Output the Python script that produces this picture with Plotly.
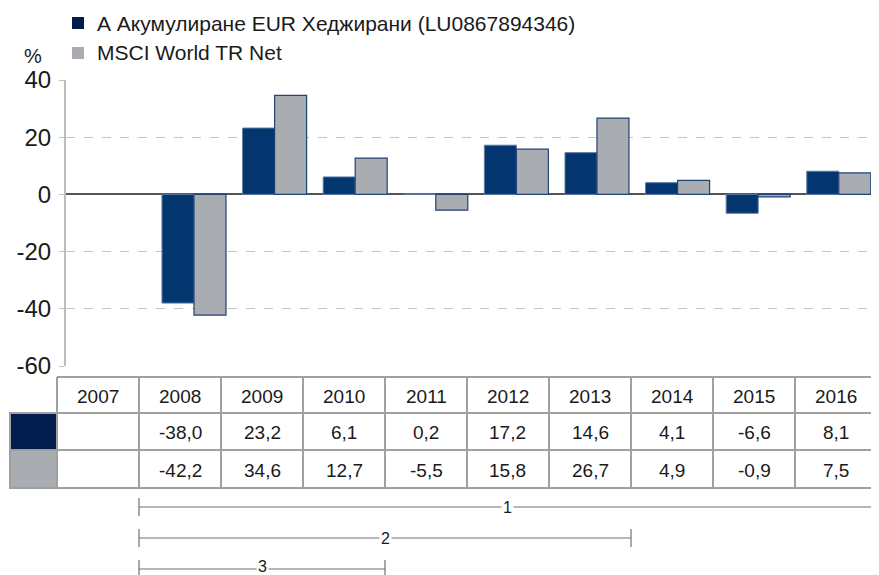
import plotly.graph_objects as go

# ---------------- data ----------------
years = ["2007", "2008", "2009", "2010", "2011", "2012", "2013", "2014", "2015", "2016"]
fund_name = "А Акумулиране EUR Хеджирани (LU0867894346)"
bench_name = "MSCI World TR Net"
fund_values = [None, -38.0, 23.2, 6.1, 0.2, 17.2, 14.6, 4.1, -6.6, 8.1]
bench_values = [None, -42.2, 34.6, 12.7, -5.5, 15.8, 26.7, 4.9, -0.9, 7.5]
y_ticks = [40, 20, 0, -20, -40, -60]
periods = ["1", "2", "3"]
period_start = ["2008", "2008", "2008"]
period_end = ["2016", "2013", "2010"]

# ---------------- style ----------------
PAGE_W, PAGE_H = 879, 575
OX, OY = 8, 8                      # page body margin
W, H = PAGE_W - OX, PAGE_H - OY
FONT = "Liberation Sans, Arial, sans-serif"
NAVY_BAR = "#03366f"
NAVY_SW = "#021c4e"
GREY = "#a9acb1"
TXT = "#1a1a1a"
BORDER = "#a0a0a0"


def px(x):
    return (x - OX) / W


def py(y):
    return 1 - (y - OY) / H


fig = go.Figure()
fig.add_trace(go.Bar(x=years, y=fund_values, name=fund_name, marker_color=NAVY_BAR,
                     marker_line=dict(color="#5d7ca3", width=1), showlegend=False))
fig.add_trace(go.Bar(x=years, y=bench_values, name=bench_name, marker_color=GREY,
                     marker_line=dict(color="#1f4377", width=1.2), showlegend=False))

shapes = []
annotations = []

# legend (custom)
for i, (name, col) in enumerate([(fund_name, NAVY_SW), (bench_name, GREY)]):
    yc = 23 + 30 * i
    shapes.append(dict(type="rect", xref="paper", yref="paper", x0=px(72), x1=px(84),
                       y0=py(yc - 6), y1=py(yc + 6), fillcolor=col, line=dict(width=0)))
    annotations.append(dict(xref="paper", yref="paper", x=px(95), y=py(yc), text=name,
                            showarrow=False, xanchor="left", yanchor="middle",
                            font=dict(family=FONT, size=21, color=TXT)))
annotations.append(dict(xref="paper", yref="paper", x=px(33), y=py(56), text="%",
                        showarrow=False, xanchor="center", yanchor="middle",
                        font=dict(family=FONT, size=20, color=TXT)))

# table
col_left = 57
col_w = 82
sw_left = 10
row_y = [377, 413, 450, 488]
n = len(years)
line = dict(color=BORDER, width=2)
shapes.append(dict(type="rect", xref="paper", yref="paper", x0=px(sw_left), x1=px(col_left),
                   y0=py(row_y[1]), y1=py(row_y[2]), fillcolor=NAVY_SW, line=line))
shapes.append(dict(type="rect", xref="paper", yref="paper", x0=px(sw_left), x1=px(col_left),
                   y0=py(row_y[2]), y1=py(row_y[3]), fillcolor=GREY, line=line))
right = col_left + col_w * n
for k, yy in enumerate(row_y):
    x0 = col_left if k == 0 else sw_left
    shapes.append(dict(type="line", xref="paper", yref="paper", x0=px(x0), x1=px(right),
                       y0=py(yy), y1=py(yy), line=line))
for k in range(n + 1):
    xx = col_left + col_w * k
    shapes.append(dict(type="line", xref="paper", yref="paper", x0=px(xx), x1=px(xx),
                       y0=py(row_y[0]), y1=py(row_y[3]), line=line))


def fmt(v):
    return "" if v is None else f"{v:.1f}".replace(".", ",")


for k, yr in enumerate(years):
    xc = col_left + col_w * (k + 0.5)
    for r, txt in enumerate([yr, fmt(fund_values[k]), fmt(bench_values[k])]):
        if not txt:
            continue
        annotations.append(dict(xref="paper", yref="paper", x=px(xc),
                                y=py((row_y[r] + row_y[r + 1]) / 2 + 1), text=txt,
                                showarrow=False, xanchor="center", yanchor="middle",
                                font=dict(family=FONT, size=19, color=TXT)))

# period brackets
br_y = [507, 538, 569]
pline = dict(color="#707070", width=1.2)
for p, s, e, yy in zip(periods, period_start, period_end, br_y):
    xs = col_left + col_w * years.index(s)
    xe = col_left + col_w * (years.index(e) + 1)
    shapes.append(dict(type="line", xref="paper", yref="paper", x0=px(xs), x1=px(xe),
                       y0=py(yy), y1=py(yy), line=pline))
    for xx in (xs, xe):
        shapes.append(dict(type="line", xref="paper", yref="paper", x0=px(xx), x1=px(xx),
                           y0=py(yy - 9), y1=py(min(yy + 9, PAGE_H)), line=pline))
    annotations.append(dict(xref="paper", yref="paper", x=px((xs + xe) / 2),
                            y=py(min(yy, PAGE_H - 9)),
                            text=p, showarrow=False, xanchor="center", yanchor="middle",
                            bgcolor="white", borderpad=1,
                            font=dict(family=FONT, size=16, color=TXT)))

fig.update_layout(
    width=W, height=H, autosize=False,
    margin=dict(l=0, r=0, t=0, b=0, pad=0, autoexpand=False),
    paper_bgcolor="white", plot_bgcolor="white",
    barmode="group", bargap=0.206, bargroupgap=0,
    showlegend=False,
    font=dict(family=FONT, color=TXT),
    shapes=shapes, annotations=annotations,
    xaxis=dict(domain=[px(66), 1], range=[-0.588, 9.499], showgrid=False,
               showticklabels=False, ticks="", showline=False, zeroline=False,
               automargin=False),
    yaxis=dict(domain=[py(366), py(80)], range=[-60, 40], tickvals=y_ticks,
               ticktext=[str(v) for v in y_ticks],
               tickfont=dict(family=FONT, size=24, color=TXT),
               showgrid=True, gridcolor="#c4c4c4", griddash="dash", gridwidth=1,
               zeroline=True, zerolinecolor="#555555", zerolinewidth=1.5,
               showline=True, linecolor="#bdbdbd", linewidth=2,
               ticks="outside", ticklen=5, tickcolor="#bdbdbd", tickwidth=1,
               ticklabelstandoff=3, automargin=False),
)

fig.write_html("out.html")
